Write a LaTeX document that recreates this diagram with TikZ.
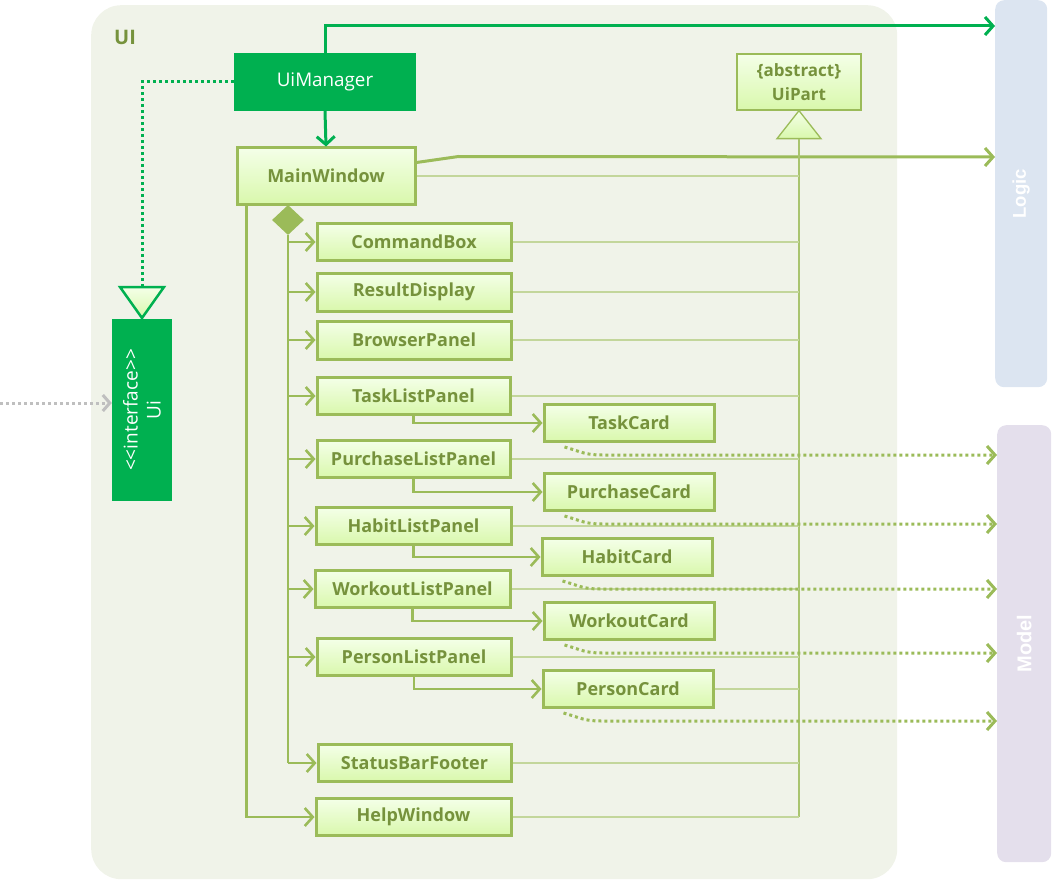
\documentclass[tikz,border=0pt]{standalone}
\usepackage{fontspec}
\setmainfont{Open Sans}
\newfontfamily\arialf{Liberation Sans}
\usetikzlibrary{arrows.meta,shapes.geometric,calc}
\definecolor{dg}{HTML}{00B050}
\definecolor{lg}{HTML}{9BBB59}
\definecolor{tg}{HTML}{76923C}
\definecolor{thinc}{HTML}{C3D69B}
\definecolor{vlc}{HTML}{A9C46F}
\definecolor{bgc}{HTML}{F0F3E9}
\definecolor{logicc}{HTML}{DCE5F1}
\definecolor{modelc}{HTML}{E4DFEC}
\definecolor{greyc}{HTML}{BFBFBF}
\definecolor{topc}{HTML}{F4FFE8}
\definecolor{botc}{HTML}{D9F8AC}
\tikzset{
  cls/.style={draw=lg, line width=3pt, top color=topc, bottom color=botc, inner sep=0pt,
    font=\fontsize{18}{20}\selectfont\bfseries, text=tg, minimum height=37pt},
  darkbox/.style={fill=dg, inner sep=0pt, text=white, font=\fontsize{18.8}{22}\selectfont},
  barb/.style={-{Straight Barb[length=8pt,width=18pt]}},
  lgline/.style={draw=lg, line width=2.6pt},
  lgarr/.style={lgline, barb},
  dgarr/.style={draw=dg, line width=3pt, -{Straight Barb[length=8pt,width=18pt]}},
  thinl/.style={draw=thinc, line width=1.5pt},
  dotarr/.style={draw=lg, line width=3pt, dash pattern=on 3pt off 3pt, -{Straight Barb[length=8pt,width=18pt]}},
  dgdot/.style={draw=dg, line width=3pt, dash pattern=on 3pt off 3pt},
  panel/.style={rounded corners=9pt, inner sep=0pt, anchor=north west},
}
\begin{document}
\begin{tikzpicture}[x=1pt,y=-1pt]
\useasboundingbox (0,0) rectangle (1052,880);
% containers
\node[fill=bgc, rounded corners=30pt, inner sep=0pt, minimum width=806pt, minimum height=874pt, anchor=north west] (uic) at (91,5) {};
\node[fill=logicc, panel, minimum width=52pt, minimum height=387pt] (logic) at (995,0) {};
\node[fill=modelc, panel, minimum width=54pt, minimum height=437pt] (mdl) at (997,425) {};
\node[rotate=90, text=white, font=\arialf\fontsize{18.5}{20}\selectfont\bfseries] (logiclbl) at (logic.center) {Logic};
\node[rotate=90, text=white, font=\arialf\fontsize{20}{20}\selectfont\bfseries] (modellbl) at (mdl.center) {Model};
\node[text=tg, font=\fontsize{20}{22}\selectfont\bfseries] (uilbl) at (125,37) {UI};

% dark boxes
\node[darkbox, minimum width=182pt, minimum height=58pt] (uim) at (325,82) {UiManager};
\node[darkbox, minimum width=60pt, minimum height=182pt] (ui) at (142,410) {};
\node[rotate=90, text=white, font=\fontsize{19}{23}\selectfont, align=center] (uitxt) at (ui.center) {<{}<interface>{}>\\Ui};

% Ui realization triangle
\coordinate (uitip) at (142,318);
\draw[draw=dg, line width=2.5pt, top color=topc, bottom color=botc, line join=miter]
  (uitip) -- ++(-22,-31) coordinate (uitl) -- ++(44,0) -- cycle;
\coordinate (uitop) at ($(uitip)+(0,-31)$);
\draw[dgdot] (uim.west) -| (uitop);

% grey incoming
\coordinate (lft) at (0,403);
\draw[draw=greyc, line width=3pt, dash pattern=on 3pt off 3pt, -{Straight Barb[length=7pt,width=16pt]}] (lft) -- (lft -| ui.west);

% MainWindow
\node[cls, minimum width=178pt, minimum height=56pt] (mw) at (326,176) {MainWindow};

% UiPart
\node[draw=lg, line width=1.3pt, top color=topc, bottom color=botc, inner sep=0pt,
  minimum width=124pt, minimum height=56pt, align=center, text=tg,
  font=\fontsize{17}{24}\selectfont\bfseries] (uipart) at (799,82) {\{abstract\}\\UiPart};
\draw[draw=lg, line width=1.3pt, top color=topc, bottom color=botc]
  (uipart.south) -- ++(22,28) -- ++(-44,0) -- cycle;
\coordinate (tribase) at ($(uipart.south)+(0,28)$);

% Logic arrows
\draw[dgarr] (uim.north) |- ($(logic.north west)+(0,26)$);
\draw[dgarr] (uim.south) -- (mw.north);
\draw[lgarr, line width=3pt] ($(mw.north east)+(0,16)$) -- ($(mw.north east)+(42,10)$) -- ($(logic.north west)+(0,157)$);

% child boxes
\node[cls, minimum width=194pt] (cmd) at (414,242) {CommandBox};
\node[cls, minimum width=194pt, minimum height=38pt] (rd) at (414,292) {ResultDisplay};
\node[cls, minimum width=194pt, minimum height=38pt] (bp) at (414,340) {BrowserPanel};
\node[cls, minimum width=193pt] (tlp) at (413.5,396) {TaskListPanel};
\node[cls, minimum width=170pt] (tc) at (629,423) {TaskCard};
\node[cls, minimum width=193pt] (plp) at (413.5,459) {PurchaseListPanel};
\node[cls, minimum width=170pt] (pc) at (629,492) {PurchaseCard};
\node[cls, minimum width=195pt] (hlp) at (413.5,526) {HabitListPanel};
\node[cls, minimum width=170pt] (hc) at (627,557) {HabitCard};
\node[cls, minimum width=195pt] (wlp) at (412.5,589) {WorkoutListPanel};
\node[cls, minimum width=170pt] (wc) at (629,621) {WorkoutCard};
\node[cls, minimum width=194pt] (pslp) at (414,657) {PersonListPanel};
\node[cls, minimum width=170pt] (psc) at (628,689) {PersonCard};
\node[cls, minimum width=193pt] (sbf) at (414.5,763) {StatusBarFooter};
\node[cls, minimum width=195pt] (hw) at (413.5,817) {HelpWindow};

% vertical inheritance line and thin connectors
\draw[draw=vlc, line width=2pt] (tribase) -- (tribase |- hw.east);
\foreach \n in {mw,cmd,rd,bp,tlp,plp,hlp,wlp,pslp,psc,sbf,hw}
  \draw[thinl] (\n.east) -- (\n.east -| tribase);

% composition diamond and trunk
\node[diamond, fill=lg, inner sep=0pt, minimum width=32pt, minimum height=30pt] (dia) at (288,220) {};
\draw[lgline] (dia.south) -- (dia.south |- sbf.west);
\foreach \n in {cmd,rd,bp,tlp,plp,hlp,wlp,pslp,sbf}
  \draw[lgarr] (dia.south |- \n.west) -- (\n.west);
\draw[lgarr] ($(mw.south west)+(11,0)$) |- (hw.west);

% panel -> card
\draw[lgarr] (tlp.south) |- (tc.west);
\draw[lgarr] (plp.south) |- (pc.west);
\draw[lgarr] (hlp.south) |- (hc.west);
\draw[lgarr] (wlp.south) |- (wc.west);
\draw[lgarr] (pslp.south) |- (psc.west);

% card -> model
\foreach \c in {tc,pc,hc,wc,psc}
  \draw[dotarr] ($(\c.south west)+(22,4)$) .. controls +(18,5) and +(-18,0) .. ($(\c.south west)+(60,12)$) coordinate (\c2) -- (\c2 -| mdl.west);
\end{tikzpicture}
\end{document}
